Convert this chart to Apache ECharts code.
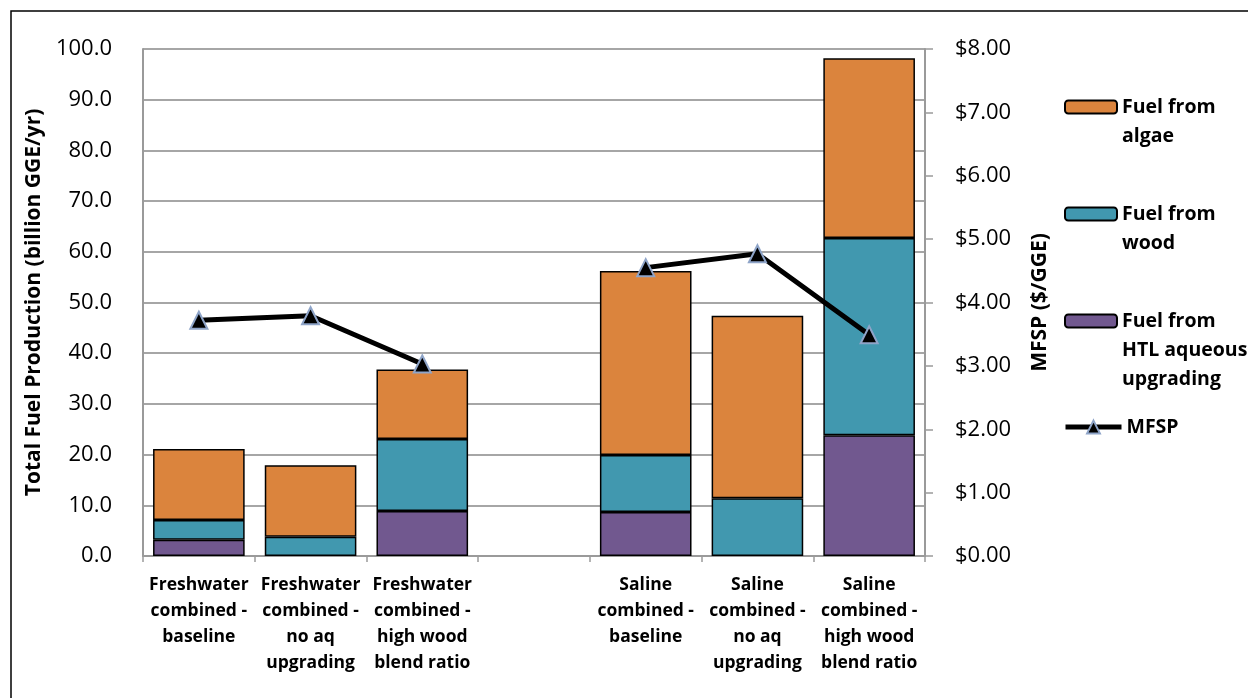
<!DOCTYPE html>
<html>
<head>
<meta charset="utf-8">
<script src="https://cdn.jsdelivr.net/npm/echarts@6/dist/echarts.min.js"></script>
<style>
  html, body { margin: 0; padding: 0; background: #fff; }
  #chart { width: 1248px; height: 698px; }
</style>
</head>
<body>
<div id="chart"></div>
<script>
// Scenario categories (blank slot separates freshwater and saline groups)
const categories = [
  'Freshwater\ncombined -\nbaseline',
  'Freshwater\ncombined -\nno aq\nupgrading',
  'Freshwater\ncombined -\nhigh wood\nblend ratio',
  '',
  'Saline\ncombined -\nbaseline',
  'Saline\ncombined -\nno aq\nupgrading',
  'Saline\ncombined -\nhigh wood\nblend ratio'
];

// Fuel production components, billion GGE/yr (stacked bottom to top)
const fuelHTL   = [3.2, null, 8.9, null, 8.7, null, 23.8];
const fuelWood  = [3.9, 3.8, 14.2, null, 11.2, 11.4, 38.9];
const fuelAlgae = [14.0, 14.1, 13.7, null, 36.3, 36.0, 35.5];

// Minimum fuel selling price, $/GGE
const mfsp = [3.72, 3.79, 3.03, null, 4.55, 4.77, 3.49];

// Axis ranges
const leftMax = 100, leftStep = 10;
const rightMax = 8, rightStep = 1;

const FONT = 'Open Sans';
const colors = { algae: '#DB843D', wood: '#4198AF', htl: '#71588F' };

const chart = echarts.init(document.getElementById('chart'));

function legendBox(name, top, lines) {
  // Leading blank lines keep the icon level with the first text line
  const lead = new Array(lines.length).join('\n');
  return {
    data: [name],
    orient: 'vertical',
    left: 1064,
    top: top,
    padding: 0,
    itemWidth: 52,
    itemHeight: 13,
    formatter: function () { return lead + lines.join('\n'); },
    textStyle: {
      fontFamily: FONT, fontWeight: 'bold', fontSize: 19.5, color: '#000',
      lineHeight: 29
    }
  };
}

const option = {
  animation: false,
  backgroundColor: '#fff',
  textStyle: { fontFamily: FONT },
  grid: { left: 143, right: 323, top: 49, bottom: 142, containLabel: false },
  legend: [
    legendBox('Fuel from algae', 63.5, ['Fuel from', 'algae']),
    legendBox('Fuel from wood', 170.5, ['Fuel from', 'wood']),
    legendBox('Fuel from HTL aqueous upgrading', 248.5, ['Fuel from', 'HTL aqueous', 'upgrading']),
    {
      data: ['MFSP'], left: 1063, top: 412.5, padding: 0,
      itemWidth: 56, itemHeight: 16,
      lineStyle: { color: '#000', width: 5 },
      textStyle: { fontFamily: FONT, fontWeight: 'bold', fontSize: 19.5, color: '#000', lineHeight: 29 }
    }
  ],
  xAxis: {
    type: 'category',
    data: categories,
    axisLine: { lineStyle: { color: '#9a9a9a', width: 2 } },
    axisTick: { show: true, length: 6, lineStyle: { color: '#9a9a9a', width: 1.5 } },
    axisLabel: {
      interval: 0, margin: 16,
      fontFamily: FONT, fontWeight: 'bold', fontSize: 17.5, color: '#000', lineHeight: 26
    }
  },
  yAxis: [
    {
      type: 'value', min: 0, max: leftMax, interval: leftStep,
      name: 'Total Fuel Production (billion GGE/yr)',
      nameLocation: 'middle', nameGap: 91, nameRotate: 90,
      nameTextStyle: { fontFamily: FONT, fontWeight: 'bold', fontSize: 21, color: '#000' },
      axisLine: { show: true, lineStyle: { color: '#9a9a9a', width: 2 } },
      axisTick: { show: false },
      axisLabel: {
        margin: 31, fontFamily: FONT, fontSize: 22, color: '#000',
        formatter: function (v) { return v.toFixed(1); }
      },
      splitLine: { show: true, lineStyle: { color: '#a6a6a6', width: 2 } }
    },
    {
      type: 'value', min: 0, max: rightMax, interval: rightStep,
      name: 'MFSP ($/GGE)',
      nameLocation: 'middle', nameGap: 105, nameRotate: 90,
      nameTextStyle: { fontFamily: FONT, fontWeight: 'bold', fontSize: 21, color: '#000' },
      axisLine: { show: true, lineStyle: { color: '#9a9a9a', width: 2 } },
      axisTick: { show: true, length: 8, lineStyle: { color: '#9a9a9a', width: 1.5 } },
      axisLabel: {
        margin: 30, fontFamily: FONT, fontSize: 22, color: '#000',
        formatter: function (v) { return '$' + v.toFixed(2); }
      },
      splitLine: { show: false }
    }
  ],
  series: [
    {
      name: 'Fuel from HTL aqueous upgrading', type: 'bar', stack: 'fuel',
      data: fuelHTL, barCategoryGap: '18%',
      itemStyle: { color: colors.htl, borderColor: '#000', borderWidth: 1.5 }
    },
    {
      name: 'Fuel from wood', type: 'bar', stack: 'fuel',
      data: fuelWood, barCategoryGap: '18%',
      itemStyle: { color: colors.wood, borderColor: '#000', borderWidth: 1.5 }
    },
    {
      name: 'Fuel from algae', type: 'bar', stack: 'fuel',
      data: fuelAlgae, barCategoryGap: '18%',
      itemStyle: { color: colors.algae, borderColor: '#000', borderWidth: 1.5 }
    },
    {
      name: 'MFSP', type: 'line', yAxisIndex: 1,
      data: mfsp, connectNulls: false,
      symbol: 'triangle', symbolSize: 17, showAllSymbol: true,
      lineStyle: { color: '#000', width: 5 },
      itemStyle: { color: '#000', borderColor: '#8EA4C8', borderWidth: 2 },
      z: 5
    }
  ],
  graphic: [
    {
      type: 'rect', silent: true, z: -1,
      shape: { x: 11, y: 11, width: 1400, height: 900 },
      style: { fill: 'none', stroke: '#000', lineWidth: 1.5 }
    }
  ]
};

chart.setOption(option);
</script>
</body>
</html>
